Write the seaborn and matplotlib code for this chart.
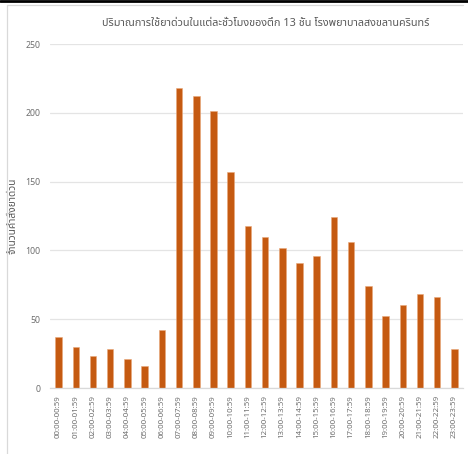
import matplotlib
matplotlib.use("Agg")
import matplotlib.pyplot as plt
import seaborn as sns
import pandas as pd
from matplotlib.lines import Line2D

hours = [
    "00:00-00:59", "01:00-01:59", "02:00-02:59", "03:00-03:59", "04:00-04:59",
    "05:00-05:59", "06:00-06:59", "07:00-07:59", "08:00-08:59", "09:00-09:59",
    "10:00-10:59", "11:00-11:59", "12:00-12:59", "13:00-13:59", "14:00-14:59",
    "15:00-15:59", "16:00-16:59", "17:00-17:59", "18:00-18:59", "19:00-19:59",
    "20:00-20:59", "21:00-21:59", "22:00-22:59", "23:00-23:59",
]
orders = [37, 30, 23, 28, 21, 16, 42, 218, 212, 201, 157, 118,
          110, 102, 91, 96, 124, 106, 74, 52, 60, 68, 66, 28]
y_ticks = [0, 50, 100, 150, 200, 250]

title = "ปริมาณการใช้ยาด่วนในแต่ละชั่วโมงของตึก 13 ชั้น โรงพยาบาลสงขลานครินทร์"
ylabel = "จำนวนคำสั่งยาด่วน"

sns.set_theme(style="white")
plt.rcParams["font.family"] = ["Noto Sans Thai", "Tahoma", "Noto Sans", "DejaVu Sans"]

df = pd.DataFrame({"hour": hours, "orders": orders})

W, H = 468, 454
AX_L, AX_R, AX_T, AX_B = 50, 463, 44, 388
fig = plt.figure(figsize=(W / 100, H / 100), dpi=100)
ax = fig.add_axes([AX_L / W, 1 - AX_B / H, (AX_R - AX_L) / W, (AX_B - AX_T) / H])

sns.barplot(data=df, x="hour", y="orders", color="#C55A11", width=0.38,
            saturation=1, ax=ax, edgecolor="#E9A77A", linewidth=0.4)

ax.set_ylim(0, 250)
ax.set_xlim(-0.5, len(hours) - 0.5)
ax.set_yticks(y_ticks)
ax.set_yticklabels([str(v) for v in y_ticks], color="#6E6E6E", fontsize=6.3)
ax.tick_params(axis="y", length=0, pad=7)
ax.tick_params(axis="x", length=0, pad=5)
ax.set_xticks(range(len(hours)))
ax.set_xticklabels(hours, rotation=90, fontsize=5.7, color="#6E6E6E")
ax.grid(axis="y", color="#E4E4E4", linewidth=0.9)
ax.set_axisbelow(True)
for side in ["top", "right", "left"]:
    ax.spines[side].set_visible(False)
ax.spines["bottom"].set_color("#D9D9D9")
ax.spines["bottom"].set_linewidth(0.9)

ax.set_xlabel("")
ax.set_ylabel(ylabel, fontsize=7.3, color="#595959")
ax.yaxis.set_label_coords((19 - AX_L) / (AX_R - AX_L), 0.5)

fig.text(266 / W, 1 - 23 / H, title, ha="center", va="center",
         fontsize=7.8, color="#595959")

# outer frame of the chart area and top strip
fig.add_artist(Line2D([7 / W, 7 / W], [0, 1 - 5 / H], transform=fig.transFigure,
                      color="#D9D9D9", linewidth=0.9))
fig.add_artist(Line2D([7 / W, 463 / W], [1 - 5 / H, 1 - 5 / H], transform=fig.transFigure,
                      color="#D9D9D9", linewidth=0.9))
fig.add_artist(Line2D([0, 1], [1 - 1 / H, 1 - 1 / H], transform=fig.transFigure,
                      color="black", linewidth=2))

fig.savefig("out.png", dpi=100)
